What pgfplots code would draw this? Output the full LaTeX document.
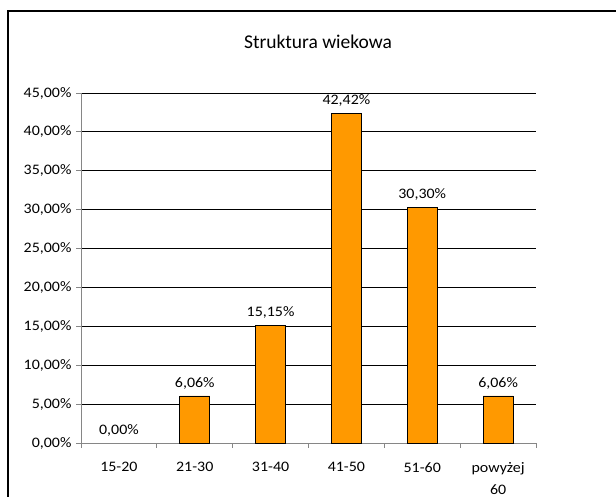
\documentclass[border=0pt]{standalone}
\usepackage{pgfplots}
\pgfplotsset{compat=1.18}
\usepackage{fontspec}
\setmainfont{Carlito}
\newfontfamily\lblfont[FakeStretch=1.1]{Carlito}
\definecolor{barorange}{HTML}{FF9900}
\definecolor{axgray}{HTML}{868686}
\begin{document}
\begin{tikzpicture}[x=1pt,y=1pt]
\path[use as bounding box] (0,0) rectangle (616,497);
\draw[black,line width=1.4pt] (8,-2) -- (8,486) -- (618,486);
\node[font=\fontsize{19.5}{22}\selectfont] at (318,455) {Struktura wiekowa};
\begin{axis}[
  at={(81pt,54pt)}, anchor=south west,
  scale only axis, width=455pt, height=350pt,
  xmin=-0.5, xmax=5.5, ymin=0, ymax=45,
  axis x line*=bottom, axis y line*=left,
  axis line style={axgray, line width=0.9pt},
  ytick={0,5,...,45},
  xtick={0,...,5},
  xticklabels={15-20,21-30,31-40,41-50,51-60,{powyżej\\60}},
  minor xtick={-0.5,0.5,...,5.5},
  major x tick style={draw=none},
  minor x tick style={axgray, line width=0.9pt},
  major y tick style={axgray, line width=0.9pt},
  tick align=outside,
  major tick length=5pt, minor tick length=5pt,
  ymajorgrids,
  major grid style={black, line width=0.8pt},
  /pgf/number format/assume math mode=true,
  yticklabel={\pgfmathprintnumber[fixed,fixed zerofill,precision=2,use comma]{\tick}\%},
  yticklabel style={font=\lblfont\fontsize{14.5}{16}\selectfont, xshift=-1pt},
  xticklabel style={font=\lblfont\fontsize{14.5}{22}\selectfont, align=center, anchor=north, yshift=-11pt},
  ybar, bar width=30pt, bar shift=0pt,
  nodes near coords={\pgfmathprintnumber[fixed,fixed zerofill,precision=2,use comma,assume math mode=true]{\pgfplotspointmeta}\%},
  every node near coord/.append style={font=\lblfont\fontsize{14.5}{16}\selectfont, anchor=south, yshift=3pt, black},
  clip=false,
]
\addplot[fill=barorange, draw=black, line width=0.7pt] coordinates {
 (1,6.06) (2,15.15) (3,42.42) (4,30.30) (5,6.06)
};
\addplot[draw=none, fill=none] coordinates {(0,0)};
\end{axis}
\end{tikzpicture}
\end{document}
